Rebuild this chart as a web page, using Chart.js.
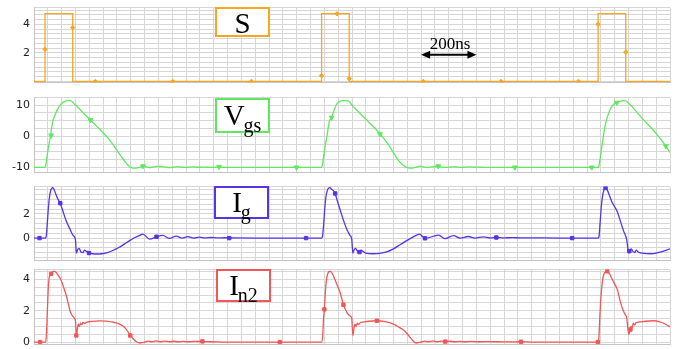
<!DOCTYPE html>
<html>
<head>
<meta charset="utf-8">
<script src="https://cdn.jsdelivr.net/npm/chart.js@4.4.0/dist/chart.umd.min.js"></script>
<style>
  html, body { margin: 0; padding: 0; background: #fff; }
  #wrap { position: relative; width: 683px; height: 349px; overflow: hidden; }
  .panel { position: absolute; left: 0; }
  .tag {
    position: absolute; box-sizing: border-box; background: #fff;
    border: 2px solid; color: #000; text-align: center; white-space: nowrap;
    font-family: "Liberation Serif", "DejaVu Serif", serif;
    font-size: 29px; line-height: 26px;
  }
  .tag .sub { font-size: 20px; position: relative; top: 7px; margin-left: -1px; }
  #scaleText {
    position: absolute; left: 420px; top: 34px; width: 60px; text-align: center;
    font-family: "Liberation Serif", "DejaVu Serif", serif; font-size: 17px; color: #000;
  }
</style>
</head>
<body>
<div id="wrap">
  <div class="panel" id="p1"><canvas id="c1"></canvas></div>
  <div class="panel" id="p2"><canvas id="c2"></canvas></div>
  <div class="panel" id="p3"><canvas id="c3"></canvas></div>
  <div class="panel" id="p4"><canvas id="c4"></canvas></div>
  <div class="tag" style="left:215px;top:7px;width:55px;height:30px;padding-top:1px;border-color:#f8a620">S</div>
  <div class="tag" style="left:215px;top:98px;width:55px;height:35px;padding-top:2px;border-color:#5fe85f">V<span class="sub">gs</span></div>
  <div class="tag" style="left:214px;top:186px;width:55px;height:33px;padding-top:1px;border-color:#5533e6">I<span class="sub">g</span></div>
  <div class="tag" style="left:216px;top:269px;width:55px;height:33px;padding-top:1px;border-color:#f25656">I<span class="sub">n2</span></div>
  <div id="scaleText">200ns</div>
</div>
<script>
// time axis in ns
const timeMin = 0;
const timeMax = 2300;
const timeStep = 50;

// S (gate command)
const sT = [0, 40, 40, 140, 140, 1040, 1040, 1140, 1140, 2040, 2040, 2140, 2140, 2300];
const sV = [0, 0, 4.75, 4.75, 0, 0, 4.75, 4.75, 0, 0, 4.75, 4.75, 0, 0];
const sMarkT = [40, 140, 222, 502, 786, 1040, 1096, 1140, 1408, 1689, 1969, 2040, 2140];
const sMarkV = [2.25, 3.77, 0, 0, 0, 0.4, 4.74, 0.2, 0, 0, 0, 4.0, 2.05];
const sTicks = [2, 4];

// Vgs
const vgsT = [0, 40, 43, 48, 54, 60, 64, 68, 74, 80, 86, 94, 104, 114, 122, 130, 138, 146, 150,
  162, 176, 190, 204, 220, 237, 250, 262, 274, 286, 298, 310, 322, 334, 344, 352, 362, 372,
  384, 394, 406, 418, 430, 442, 454, 466, 478, 490, 502, 514, 526, 538, 550, 562, 576, 590, 604, 618, 636, 680,
  1040, 1043, 1048, 1054, 1060, 1064, 1068, 1076, 1084, 1094, 1104, 1114, 1124, 1134, 1142, 1148, 1154,
  1166, 1180, 1196, 1212, 1230, 1251, 1264, 1276, 1288, 1299, 1312, 1324, 1336, 1347, 1358, 1368,
  1380, 1396, 1410, 1424, 1438, 1452, 1462, 1476, 1490, 1504, 1518, 1532, 1546, 1560, 1576, 1592, 1610, 1630, 1680,
  2041, 2044, 2050, 2056, 2060, 2066, 2074, 2085, 2096, 2108, 2120, 2132, 2142, 2150, 2156,
  2170, 2194, 2218, 2243, 2264, 2285, 2300];
const vgsV = [-10, -10, -9.2, -6.0, -2.6, 0.2, 2.8, 4.8, 6.4, 7.7, 8.8, 9.9, 10.8, 11.3, 11.45, 11.4, 11.1, 10.3, 10.0,
  9.0, 7.7, 6.4, 5.2, 3.8, 2.3, 1.1, 0.0, -1.3, -2.7, -4.2, -5.8, -7.3, -8.7, -9.6, -10.05, -10.25, -10.2,
  -9.9, -9.7, -9.85, -10.05, -9.9, -9.7, -9.65, -9.75, -9.95, -10.05, -9.95, -9.8, -9.8, -9.95, -10.0, -9.9, -9.85, -9.95, -9.95, -9.9, -10, -10,
  -10, -9.2, -6.0, -2.6, 0.2, 2.8, 4.7, 6.0, 8.0, 10.2, 11.1, 11.4, 11.45, 11.35, 11.0, 10.2, 9.6,
  8.5, 7.2, 5.8, 4.4, 2.8, 0.8, -0.6, -2.0, -3.6, -5.2, -7.0, -8.4, -9.4, -10.0, -10.25, -10.2,
  -9.9, -9.6, -9.85, -10.05, -9.85, -9.7, -9.7, -9.9, -10.0, -9.9, -9.8, -9.9, -10.0, -9.9, -9.85, -9.95, -9.9, -10, -10,
  -10, -9.0, -5.5, -1.8, 0.5, 3.7, 6.3, 8.9, 10.2, 10.9, 11.3, 11.45, 11.3, 10.6, 10.1,
  8.8, 6.3, 4.0, 1.6, -0.7, -3.2, -5.2];
const vgsMarkT = [62, 204, 394, 669, 949, 1076, 1251, 1462, 1739, 2017, 2108, 2285];
const vgsMarkV = [0.3, 5.2, -9.6, -9.8, -10, 6.0, 0.7, -9.6, -10, -10, 10.8, -3.2];
const vgsTicks = [-10, 0, 10];

// Ig
const igT = [0, 42, 45, 48, 52, 56, 60, 64, 68, 72, 78, 86, 95, 105, 117, 130, 142, 150,
  153, 158, 163, 170, 177, 183, 190, 199, 212, 225, 245, 265, 285, 305, 320, 334, 350, 365, 380,
  394, 418, 443, 466, 490, 514, 536, 556, 578, 598, 620, 642, 665, 690, 720, 800,
  1040, 1043, 1047, 1051, 1055, 1060, 1066, 1071, 1076, 1082, 1089, 1098, 1107, 1118, 1130, 1142, 1149,
  1153, 1158, 1163, 1170, 1177, 1183, 1190, 1199, 1227, 1250, 1275, 1300, 1324, 1348, 1372,
  1394, 1414, 1463, 1487, 1517, 1541, 1571, 1595, 1625, 1650, 1672, 1700, 1730, 1760, 1800, 1900,
  2040, 2043, 2047, 2052, 2057, 2062, 2067, 2073, 2080, 2090, 2100, 2109, 2120, 2132, 2143,
  2151, 2155, 2160, 2166, 2172, 2178, 2185, 2200, 2230, 2260, 2301];
const igV = [0, 0, 0.3, 1.2, 2.5, 3.4, 3.9, 4.12, 4.18, 4.05, 3.7, 3.25, 2.89, 2.2, 1.4, 0.75, 0.2, -0.15,
  -1.25, -0.95, -0.85, -1.15, -1.2, -1.0, -1.1, -1.25, -1.3, -1.32, -1.3, -1.2, -1.03, -0.8, -0.6, -0.38, -0.15, 0.05, 0.2,
  0.33, -0.08, 0.11, 0.22, -0.03, 0.17, 0.0, 0.12, 0.0, 0.08, 0.01, 0.05, 0.02, 0.03, 0.01, 0,
  0, 0.1, 1.0, 2.3, 3.3, 3.9, 4.15, 4.18, 4.05, 3.95, 3.7, 3.0, 2.35, 1.55, 0.8, 0.25, -0.08,
  -1.24, -0.95, -0.85, -1.1, -1.16, -1.0, -1.1, -1.25, -1.3, -1.27, -1.15, -0.89, -0.55, -0.21, 0.1,
  0.33, -0.03, 0.25, -0.05, 0.2, 0.0, 0.13, 0.0, 0.1, 0.02, 0.05, 0.02, 0.04, 0.02, 0.02, 0,
  0, 0.1, 1.2, 2.7, 3.6, 4.05, 4.18, 4.0, 3.6, 3.0, 2.6, 2.2, 1.45, 0.6, -0.08,
  -1.24, -1.0, -0.9, -1.1, -1.2, -1.0, -1.15, -1.25, -1.3, -1.18, -0.89];
const igMarkT = [20, 95, 199, 443, 706, 984, 1089, 1177, 1414, 1672, 1946, 2067, 2153];
const igMarkV = [0, 2.89, -1.24, 0.11, 0, 0, 3.7, -1.16, -0.02, 0.05, 0, 4.16, -1.08];
const igTicks = [0, 2];

// In2
const in2T = [0, 42, 45, 48, 51, 54, 58, 62, 68, 74, 80, 88, 98, 108, 117, 124, 131, 139, 147, 150,
  153, 157, 160, 164, 168, 172, 177, 183, 192, 210, 237, 260, 285, 305, 322, 335, 348, 360, 372, 382,
  396, 412, 426, 442, 458, 474, 490, 506, 522, 540, 560, 580, 609, 640, 700,
  1040, 1044, 1047, 1050, 1053, 1057, 1062, 1067, 1072, 1078, 1086, 1096, 1107, 1119, 1130, 1140, 1149,
  1153, 1157, 1161, 1165, 1169, 1174, 1180, 1190, 1210, 1240, 1270, 1300, 1320, 1335, 1348, 1360, 1372, 1382,
  1396, 1412, 1426, 1442, 1458, 1474, 1487, 1506, 1522, 1540, 1560, 1580, 1610, 1650, 1700, 1761, 1800,
  2040, 2043, 2046, 2050, 2055, 2060, 2066, 2073, 2080, 2090, 2100, 2109, 2120, 2130, 2138, 2143,
  2151, 2155, 2159, 2163, 2167, 2172, 2178, 2190, 2210, 2242, 2270, 2301];
const in2V = [0, 0, 0.5, 1.8, 3.2, 4.0, 4.3, 4.4, 4.5, 4.52, 4.45, 4.25, 3.95, 3.45, 2.96, 2.45, 1.95, 1.68, 1.5, 1.35,
  0.42, 0.85, 1.15, 1.0, 1.2, 1.1, 1.25, 1.2, 1.28, 1.32, 1.35, 1.34, 1.28, 1.18, 1.02, 0.78, 0.45, 0.18, 0.0, -0.06,
  -0.02, 0.06, 0.02, 0.07, 0.02, 0.06, 0.02, 0.05, 0.02, 0.04, 0.02, 0.04, 0.03, 0.02, 0,
  0, 0.4, 1.5, 2.09, 3.0, 3.9, 4.35, 4.5, 4.52, 4.4, 4.1, 3.65, 3.17, 2.38, 1.95, 1.7, 1.54,
  0.42, 0.85, 1.15, 1.0, 1.2, 1.12, 1.25, 1.28, 1.33, 1.36, 1.3, 1.14, 0.95, 0.78, 0.56, 0.3, 0.05, -0.06,
  -0.02, 0.06, 0.02, 0.07, 0.02, 0.06, 0.03, 0.05, 0.02, 0.04, 0.02, 0.04, 0.02, 0.03, 0.01, 0.02, 0,
  0, 0.3, 1.5, 2.8, 3.8, 4.3, 4.48, 4.52, 4.4, 4.05, 3.7, 3.38, 2.6, 2.05, 1.75, 1.6,
  0.48, 0.75, 1.0, 0.9, 1.2, 1.1, 1.25, 1.28, 1.33, 1.36, 1.25, 0.98];
const in2MarkT = [22, 62, 153, 348, 609, 889, 1050, 1119, 1240, 1487, 1761, 2039, 2073, 2157];
const in2MarkV = [0, 4.36, 0.42, 0.42, 0.04, 0, 2.09, 2.38, 1.36, 0.03, 0.02, 0, 4.52, 0.8];
const in2Ticks = [0, 2, 4];

// 200 ns scale arrow on the S panel
const arrowFrom = 1400;
const arrowTo = 1600;
const arrowLevel = 1.86;

const pts = (t, v) => t.map((x, i) => ({ x: x, y: v[i] }));

// grid positions: every multiple of step inside [min, max], plus both edges
function gridTicks(min, max, step) {
  const out = [{ value: min }];
  for (let k = Math.ceil(min / step + 1e-9); k * step < max - 1e-9; k++) {
    if (k * step > min + 1e-9) out.push({ value: k * step });
  }
  out.push({ value: max });
  return out;
}

const arrowPlugin = {
  id: "scaleArrow",
  afterDatasetsDraw(chart) {
    const { ctx, scales } = chart;
    const x0 = scales.x.getPixelForValue(arrowFrom);
    const x1 = scales.x.getPixelForValue(arrowTo);
    const y = scales.y.getPixelForValue(arrowLevel);
    ctx.save();
    ctx.strokeStyle = "#000";
    ctx.fillStyle = "#000";
    ctx.lineWidth = 2;
    ctx.beginPath();
    ctx.moveTo(x0 + 6, y);
    ctx.lineTo(x1 - 6, y);
    ctx.stroke();
    ctx.beginPath();
    ctx.moveTo(x0, y);
    ctx.lineTo(x0 + 9, y - 4);
    ctx.lineTo(x0 + 9, y + 4);
    ctx.closePath();
    ctx.fill();
    ctx.beginPath();
    ctx.moveTo(x1, y);
    ctx.lineTo(x1 - 9, y - 4);
    ctx.lineTo(x1 - 9, y + 4);
    ctx.closePath();
    ctx.fill();
    ctx.restore();
  },
};

const PAD = 10;

function makePanel(id, plotTop, plotBottom, opts) {
  const h = plotBottom - plotTop + 2 * PAD;
  const holder = document.getElementById("p" + id);
  holder.style.top = plotTop - PAD + "px";
  const canvas = document.getElementById("c" + id);
  canvas.width = 683;
  canvas.height = h;
  canvas.style.width = "683px";
  canvas.style.height = h + "px";

  new Chart(canvas, {
    type: "line",
    data: {
      datasets: [
        {
          data: pts(opts.t, opts.v),
          borderColor: opts.color,
          borderWidth: 1.3,
          pointRadius: 0,
          cubicInterpolationMode: opts.stepLine ? "default" : "monotone",
          tension: 0,
        },
        {
          data: pts(opts.markT, opts.markV),
          showLine: false,
          pointStyle: opts.marker,
          rotation: opts.markerRotation || 0,
          pointRadius: opts.markerSize || 2.5,
          backgroundColor: opts.color,
          borderColor: opts.color,
          borderWidth: 1,
        },
      ],
    },
    options: {
      responsive: false,
      animation: false,
      events: [],
      layout: { padding: { top: PAD, bottom: PAD, left: 0, right: 13 } },
      plugins: { legend: { display: false }, tooltip: { enabled: false } },
      scales: {
        x: {
          type: "linear",
          min: timeMin,
          max: timeMax,
          ticks: { display: false, autoSkip: false },
          grid: { color: "#d6d6d6", lineWidth: 1, drawTicks: false },
          border: { color: "#c4c4c4" },
          afterBuildTicks: (s) => { s.ticks = gridTicks(timeMin, timeMax, timeStep); },
          afterFit: (s) => { s.height = 0; },
        },
        y: {
          min: opts.min,
          max: opts.max,
          ticks: {
            autoSkip: false,
            padding: 4,
            color: "#222",
            font: { family: "DejaVu Sans", size: 11 },
            callback: (v) => {
              const r = Math.round(v);
              return Math.abs(v - r) < 1e-6 && opts.labels.includes(r) ? String(r) : "";
            },
          },
          grid: { color: "#d6d6d6", lineWidth: 1, drawTicks: false },
          border: { color: "#c4c4c4" },
          afterBuildTicks: (s) => { s.ticks = gridTicks(opts.min, opts.max, opts.step); },
          afterFit: (s) => { s.width = 34; },
        },
      },
    },
    plugins: opts.extra ? [opts.extra] : [],
  });
}

makePanel(1, 7, 83, {
  t: sT, v: sV, markT: sMarkT, markV: sMarkV, labels: sTicks,
  color: "#f8a620", marker: "rectRot", markerSize: 2.2,
  min: -0.07, max: 5.17, step: 1 / 3, stepLine: true, extra: arrowPlugin,
});
makePanel(2, 97, 173, {
  t: vgsT, v: vgsV, markT: vgsMarkT, markV: vgsMarkV, labels: vgsTicks,
  color: "#5fe85f", marker: "triangle", markerRotation: 180, markerSize: 2.8,
  min: -11.6, max: 12.4, step: 2.5,
});
makePanel(3, 186, 261, {
  t: igT, v: igV, markT: igMarkT, markV: igMarkV, labels: igTicks,
  color: "#5533e6", marker: "rect", markerSize: 2.4,
  min: -1.85, max: 4.27, step: 0.4,
});
makePanel(4, 269, 345, {
  t: in2T, v: in2V, markT: in2MarkT, markV: in2MarkV, labels: in2Ticks,
  color: "#f25656", marker: "rect", markerSize: 2.4,
  min: -0.15, max: 4.63, step: 0.5,
});
</script>
</body>
</html>
